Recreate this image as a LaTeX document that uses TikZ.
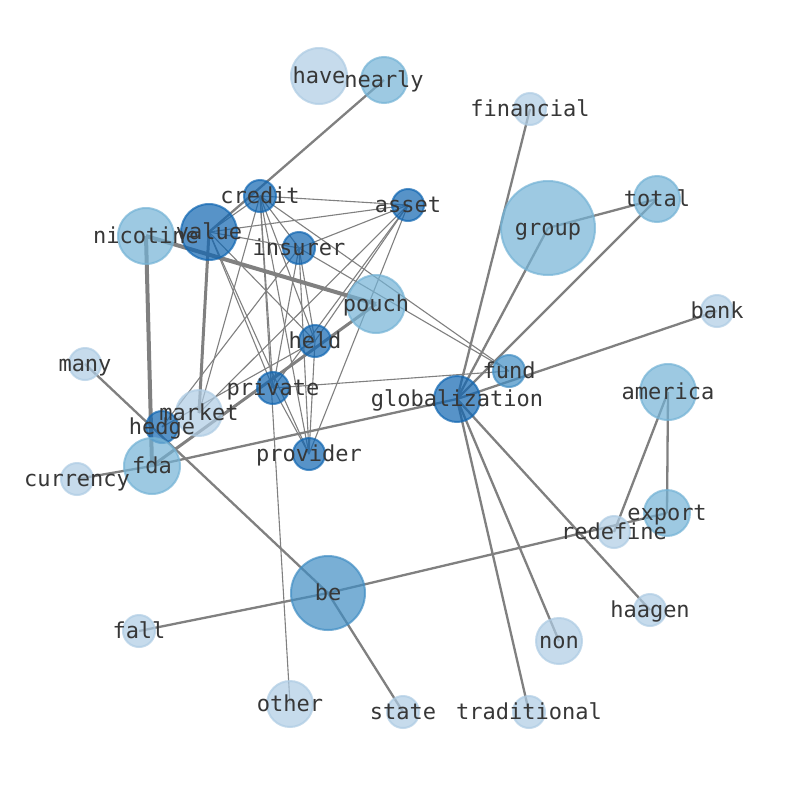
\documentclass[tikz,border=0pt]{standalone}
\usepackage{fontspec}
\setmonofont{DejaVu Sans Mono}
\definecolor{cL}{RGB}{174,204,228}
\definecolor{cM}{RGB}{116,179,214}
\definecolor{cB}{RGB}{65,142,196}
\definecolor{cD}{RGB}{16,102,178}
\definecolor{txt}{RGB}{55,55,55}
\definecolor{edg}{RGB}{128,128,128}
\begin{document}
\begin{tikzpicture}[x=1pt,y=-1pt,
  thinedge/.style={draw=edg, line width=1.1pt},
  midedge/.style={draw=edg, line width=2.3pt},
  boldedge/.style={draw=edg, line width=3pt},
  heavyedge/.style={draw=edg, line width=4pt},
  nd/.style={circle, inner sep=0pt, line width=2pt, fill opacity=0.7, draw opacity=0.7},
  ndL/.style={nd, fill=cL, draw=cL},
  ndM/.style={nd, fill=cM, draw=cM},
  ndB/.style={nd, fill=cB, draw=cB},
  ndD/.style={nd, fill=cD, draw=cD},
  lab/.style={font=\fontsize{22}{24}\selectfont\ttfamily, text=txt, inner sep=0pt, text height=0.76em, text depth=0.24em, yshift=-5pt}]
\useasboundingbox (0,0) rectangle (794,790);
\fill[white] (0,0) rectangle (794,790);
% node positions
\foreach \n/\x/\y in {have/319/76, nearly/384/80, financial/530/109, credit/260/196,
  asset/408/205, group/548/228, total/657/199, nicotine/146/236, value/209/232,
  insurer/299/248, pouch/376/304, bank/717/311, held/315/341, many/85/364,
  fund/509/371, america/668/392, private/273/388, globalization/457/399,
  market/199/413, hedge/162/427, provider/309/454, fda/152/466, currency/77/479,
  export/667/513, redefine/614/532, be/328/593, haagen/650/610, fall/139/631,
  non/559/641, other/290/704, state/403/712, traditional/529/712}
  \coordinate (\n) at (\x,\y);
% thin edges
\foreach \a/\b in {credit/asset, credit/insurer, credit/value, credit/held, credit/private,
  credit/provider, credit/market, credit/fund, credit/other,
  value/asset, value/insurer, value/held, value/private, value/provider,
  asset/insurer, asset/held, asset/private, asset/provider, asset/market,
  insurer/held, insurer/private, insurer/provider, insurer/hedge, insurer/fund,
  held/provider, held/hedge, private/provider, private/fund}
  \draw[thinedge] (\a) -- (\b);
% normal edges
\foreach \a/\b in {nearly/value, financial/globalization, group/globalization, group/total,
  total/globalization, bank/globalization, many/be, fda/globalization, currency/fda,
  fall/be, be/export, be/state, america/redefine, america/export,
  globalization/haagen, globalization/non, globalization/traditional}
  \draw[midedge] (\a) -- (\b);
\draw[boldedge] (value) -- (market);
\draw[boldedge] (fda) -- (pouch);
\draw[heavyedge] (nicotine) -- (fda);
\draw[heavyedge] (nicotine) -- (pouch);
% nodes
\foreach \n/\r/\s in {have/29/ndL, nearly/24/ndM, financial/17/ndL, credit/17/ndD,
  asset/17/ndD, group/48/ndM, total/24/ndM, nicotine/29/ndM, value/29/ndD,
  insurer/17/ndD, pouch/30/ndM, bank/17/ndL, held/17/ndD, many/17/ndL,
  fund/17/ndB, america/29/ndM, private/17/ndD, globalization/24/ndD,
  market/24/ndL, hedge/17/ndD, provider/17/ndD, fda/29/ndM, currency/17/ndL,
  export/24/ndM, redefine/17/ndL, be/38/ndB, haagen/17/ndL, fall/17/ndL,
  non/24/ndL, other/24/ndL, state/17/ndL, traditional/17/ndL}
  \node[\s, minimum size=2*\r pt-2pt] (\n-c) at (\n) {};
% labels
\foreach \n in {have, nearly, financial, credit, asset, group, total, nicotine, value,
  insurer, pouch, bank, held, many, fund, america, private, globalization, market,
  hedge, provider, fda, currency, export, redefine, be, haagen, fall, non, other,
  state, traditional}
  \node[lab] (\n-t) at (\n) {\n};
\end{tikzpicture}
\end{document}
